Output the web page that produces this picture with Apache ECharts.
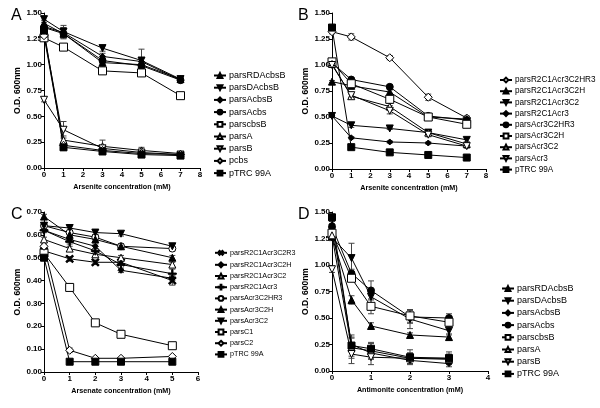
<!DOCTYPE html>
<html><head><meta charset="utf-8">
<script src="https://cdn.jsdelivr.net/npm/echarts@6/dist/echarts.min.js"></script>
<style>html,body{margin:0;padding:0;background:#fff}#c{width:600px;height:408px}</style>
</head><body><div id="c"></div>
<script>
// ---------- DATA ----------
const xA = [0, 1, 3, 5, 7];
const namesA = ['parsRDAcbsB','parsDAcbsB','parsAcbsB','parsAcbs','parscbsB','parsA','parsB','pcbs','pTRC 99A'];
const valA = [
  [1.40, 1.30, 1.02, 1.00, 0.86],
  [1.44, 1.32, 1.16, 1.04, 0.86],
  [1.37, 1.31, 1.08, 1.03, 0.85],
  [1.36, 1.30, 1.04, 0.99, 0.85],
  [1.26, 1.17, 0.94, 0.92, 0.70],
  [1.30, 0.27, 0.21, 0.17, 0.14],
  [0.66, 0.37, 0.19, 0.15, 0.13],
  [1.28, 0.22, 0.17, 0.14, 0.13],
  [1.33, 0.20, 0.16, 0.13, 0.12]
];
const errA = [
  [0.03, 0.05, 0.04, 0.03, 0.03],
  [0.03, 0.06, 0.03, 0.11, 0.03],
  [0.02, 0.05, 0.03, 0.04, 0.02],
  [0.02, 0.04, 0.03, 0.03, 0.02],
  [0.02, 0.03, 0.02, 0.02, 0.03],
  [0.02, 0.04, 0.06, 0.03, 0.02],
  [0.02, 0.08, 0.03, 0.03, 0.02],
  [0.02, 0.03, 0.03, 0.02, 0.02],
  [0.02, 0.03, 0.03, 0.02, 0.02]
];

const xB = [0, 1, 3, 5, 7];
const namesB = ['parsR2C1Acr3C2HR3','parsR2C1Acr3C2H','parsR2C1Acr3C2','parsR2C1Acr3','parsAcr3C2HR3','parsAcr3C2H','parsAcr3C2','parsAcr3','pTRC 99A'];
const valB = [
  [1.32, 1.27, 1.07, 0.69, 0.49],
  [0.84, 0.80, 0.74, 0.50, 0.48],
  [0.51, 0.42, 0.39, 0.35, 0.28],
  [0.51, 0.30, 0.26, 0.25, 0.22],
  [1.02, 0.86, 0.79, 0.51, 0.47],
  [1.03, 0.82, 0.67, 0.50, 0.43],
  [1.01, 0.70, 0.60, 0.35, 0.24],
  [1.00, 0.71, 0.56, 0.33, 0.22],
  [1.36, 0.21, 0.16, 0.135, 0.11]
];
const errB = [
  [0.02, 0.03, 0.02, 0.03, 0.02],
  [0.01, 0.02, 0.02, 0.02, 0.02],
  [0.01, 0.02, 0.01, 0.01, 0.02],
  [0.01, 0.01, 0.01, 0.01, 0.01],
  [0.02, 0.02, 0.02, 0.02, 0.02],
  [0.02, 0.03, 0.06, 0.02, 0.02],
  [0.02, 0.02, 0.03, 0.02, 0.02],
  [0.02, 0.02, 0.03, 0.02, 0.02],
  [0.02, 0.01, 0.01, 0.01, 0.01]
];

const xC = [0, 1, 2, 3, 5];
const namesC = ['parsR2C1Acr3C2R3','parsR2C1Acr3C2H','parsR2C1Acr3C2','parsR2C1Acr3','parsAcr3C2HR3','parsAcr3C2H','parsAcr3C2','parsC1','parsC2','pTRC 99A'];
const valC = [
  [0.53, 0.495, 0.48, 0.48, 0.40],
  [0.62, 0.58, 0.55, 0.445, 0.41],
  [0.58, 0.54, 0.515, 0.50, 0.47],
  [0.62, 0.57, 0.53, 0.47, 0.43],
  [0.64, 0.61, 0.59, 0.55, 0.54],
  [0.68, 0.60, 0.58, 0.55, 0.50],
  [0.64, 0.63, 0.61, 0.605, 0.55],
  [0.52, 0.37, 0.215, 0.165, 0.115],
  [0.55, 0.095, 0.06, 0.06, 0.068],
  [0.50, 0.045, 0.045, 0.045, 0.045]
];
const errC = [
  [0.01, 0.01, 0.01, 0.01, 0.02],
  [0.01, 0.01, 0.01, 0.01, 0.01],
  [0.01, 0.01, 0.01, 0.01, 0.01],
  [0.01, 0.01, 0.01, 0.02, 0.02],
  [0.01, 0.01, 0.01, 0.01, 0.01],
  [0.01, 0.01, 0.01, 0.01, 0.01],
  [0.01, 0.01, 0.01, 0.01, 0.01],
  [0.01, 0.01, 0.01, 0.01, 0.01],
  [0.01, 0.01, 0.00, 0.00, 0.00],
  [0.01, 0.00, 0.00, 0.00, 0.00]
];

const xD = [0, 0.5, 1, 2, 3];
const namesD = ['parsRDAcbsB','parsDAcbsB','parsAcbsB','parsAcbs','parscbsB','parsA','parsB','pTRC 99A'];
const valD = [
  [1.27, 0.67, 0.425, 0.34, 0.32],
  [1.26, 1.065, 0.70, 0.49, 0.38],
  [1.38, 0.25, 0.17, 0.10, 0.07],
  [1.36, 0.92, 0.76, 0.51, 0.50],
  [1.30, 0.875, 0.61, 0.52, 0.46],
  [1.28, 0.22, 0.19, 0.12, 0.11],
  [0.96, 0.16, 0.13, 0.12, 0.12],
  [1.45, 0.24, 0.21, 0.13, 0.12]
];
const errD = [
  [0.03, 0.04, 0.03, 0.02, 0.03],
  [0.03, 0.14, 0.06, 0.09, 0.04],
  [0.03, 0.06, 0.06, 0.03, 0.03],
  [0.03, 0.04, 0.09, 0.06, 0.04],
  [0.03, 0.03, 0.07, 0.06, 0.03],
  [0.03, 0.10, 0.07, 0.05, 0.04],
  [0.03, 0.09, 0.07, 0.05, 0.04],
  [0.03, 0.10, 0.06, 0.07, 0.06]
];

// ---------- STYLE ----------
const TRI_DN = 'path://M0,0L10,0L5,9Z';
const PLUS = 'path://M4.2,0H5.8V4.2H10V5.8H5.8V10H4.2V5.8H0V4.2H4.2Z';
const SYM = {
  triUpF: {symbol:'triangle', fill:'#000', size:7},
  triUpO: {symbol:'triangle', fill:'#fff', size:7},
  triDnF: {symbol:TRI_DN, fill:'#000', size:7},
  triDnO: {symbol:TRI_DN, fill:'#fff', size:7},
  diaS:   {symbol:'diamond', fill:'#000', size:6},
  diaO:   {symbol:'diamond', fill:'#fff', size:8},
  circF:  {symbol:'circle', fill:'#000', size:7},
  circO:  {symbol:'circle', fill:'#fff', size:7},
  sqF:    {symbol:'rect', fill:'#000', size:7},
  sqO:    {symbol:'rect', fill:'#fff', size:8},
  plus:   {symbol:PLUS, fill:'#000', size:8},
  cross:  {symbol:PLUS, fill:'#000', size:9, rotate:45}
};
const symA = ['triUpF','triDnF','diaS','circF','sqO','triUpO','triDnO','diaO','sqF'];
const symB = ['diaO','triUpF','triDnF','diaS','circF','sqO','triUpO','triDnO','sqF'];
const symC = ['cross','diaS','triUpO','plus','circO','triUpF','triDnF','sqO','diaO','sqF'];
const symD = ['triUpF','triDnF','diaS','circF','sqO','triUpO','triDnO','sqF'];

const FONT = '"Liberation Sans",Arial,sans-serif';

const panels = [
  {key:'A', x:xA, names:namesA, vals:valA, errs:errA, syms:symA},
  {key:'B', x:xB, names:namesB, vals:valB, errs:errB, syms:symB},
  {key:'C', x:xC, names:namesC, vals:valC, errs:errC, syms:symC},
  {key:'D', x:xD, names:namesD, vals:valD, errs:errD, syms:symD}
];

const grids = [
  {left:44, top:13, width:156, height:155},
  {left:332, top:13, width:154, height:156},
  {left:44, top:212, width:154, height:160},
  {left:332, top:212, width:156, height:159}
];
const xCfg = [
  {max:8, name:'Arsenite concentration (mM)'},
  {max:8, name:'Arsenite concentration (mM)'},
  {max:6, name:'Arsenate concentration (mM)'},
  {max:4, name:'Antimonite concentration (mM)'}
];
const yCfg = [
  {max:1.5, interval:0.25},
  {max:1.5, interval:0.25},
  {max:0.7, interval:0.1},
  {max:1.5, interval:0.25}
];
const legendPos = [
  {left:213, top:71, fs:9},
  {left:499, top:76, fs:8.2},
  {left:214, top:248, fs:7.2},
  {left:501, top:284, fs:9}
];

const axisLabelStyle = {fontSize:8, fontWeight:'bold', color:'#000', fontFamily:FONT};
const xAxis = xCfg.map((c, i) => ({
  gridIndex:i, type:'value', min:0, max:c.max, interval:1,
  name:c.name, nameLocation:'middle', nameGap:16,
  nameTextStyle:{fontSize:7.2, fontWeight:'bold', color:'#000', fontFamily:FONT},
  axisLine:{show:true, onZero:false, lineStyle:{color:'#000', width:1}},
  axisTick:{show:true, length:3, lineStyle:{color:'#000'}},
  axisLabel:Object.assign({margin:3}, axisLabelStyle),
  splitLine:{show:false}
}));
const yAxis = yCfg.map((c, i) => ({
  gridIndex:i, type:'value', min:0, max:c.max, interval:c.interval,
  name:'O.D. 600nm', nameLocation:'middle', nameGap:19,
  nameTextStyle:{fontSize:8.5, fontWeight:'bold', color:'#000', fontFamily:FONT},
  axisLine:{show:true, onZero:false, lineStyle:{color:'#000', width:1}},
  axisTick:{show:true, length:3, lineStyle:{color:'#000'}},
  axisLabel:Object.assign({margin:2, formatter:v => v.toFixed(2)}, axisLabelStyle),
  splitLine:{show:false}
}));

const series = [];
const legends = [];
panels.forEach((p, pi) => {
  const legendData = [];
  p.names.forEach((nm, si) => {
    const s = SYM[p.syms[si]];
    const full = p.key + ':' + nm;
    legendData.push(full);
    const errData = p.x.map((xv, k) => [xv, p.vals[si][k], p.errs[si][k]]);
    series.push({
      type:'custom', xAxisIndex:pi, yAxisIndex:pi, silent:true, z:1,
      data:errData,
      renderItem:function(params, api){
        const xv = api.value(0), yv = api.value(1), e = api.value(2);
        if (!e) return null;
        const top = api.coord([xv, yv + e]);
        const bot = api.coord([xv, Math.max(0, yv - e)]);
        const st = {stroke:'#444', lineWidth:1};
        return {type:'group', children:[
          {type:'line', shape:{x1:top[0], y1:top[1], x2:bot[0], y2:bot[1]}, style:st},
          {type:'line', shape:{x1:top[0]-3, y1:top[1], x2:top[0]+3, y2:top[1]}, style:st},
          {type:'line', shape:{x1:bot[0]-3, y1:bot[1], x2:bot[0]+3, y2:bot[1]}, style:st}
        ]};
      }
    });
    series.push({
      type:'line', name:full, xAxisIndex:pi, yAxisIndex:pi, z:3,
      data:p.x.map((xv, k) => [xv, p.vals[si][k]]),
      symbol:s.symbol, symbolSize:s.size, symbolRotate:s.rotate || 0,
      showSymbol:true, animation:false,
      lineStyle:{color:'#000', width:1},
      itemStyle:{color:s.fill, borderColor:'#000', borderWidth:1}
    });
  });
  legends.push({
    orient:'vertical', left:legendPos[pi].left, top:legendPos[pi].top,
    data:legendData, itemWidth:12, itemHeight:6, itemGap:3.2,
    selectedMode:false, padding:0,
    formatter:name => name.slice(name.indexOf(':') + 1),
    textStyle:{fontSize:legendPos[pi].fs, lineHeight:8, color:'#000', fontFamily:FONT, padding:[0,0,0,-2]}
  });
});

const letters = [
  {t:'A', x:11, y:8}, {t:'B', x:298, y:8}, {t:'C', x:11, y:207}, {t:'D', x:298, y:207}
];

const chart = echarts.init(document.getElementById('c'), null, {renderer:'canvas'});
chart.setOption({
  animation:false,
  backgroundColor:'#fff',
  grid:grids,
  xAxis:xAxis,
  yAxis:yAxis,
  legend:legends,
  series:series,
  graphic:letters.map(l => ({type:'text', left:l.x, top:l.y,
    style:{text:l.t, fontSize:16, fill:'#000', fontFamily:FONT}}))
});
</script>
</body></html>
